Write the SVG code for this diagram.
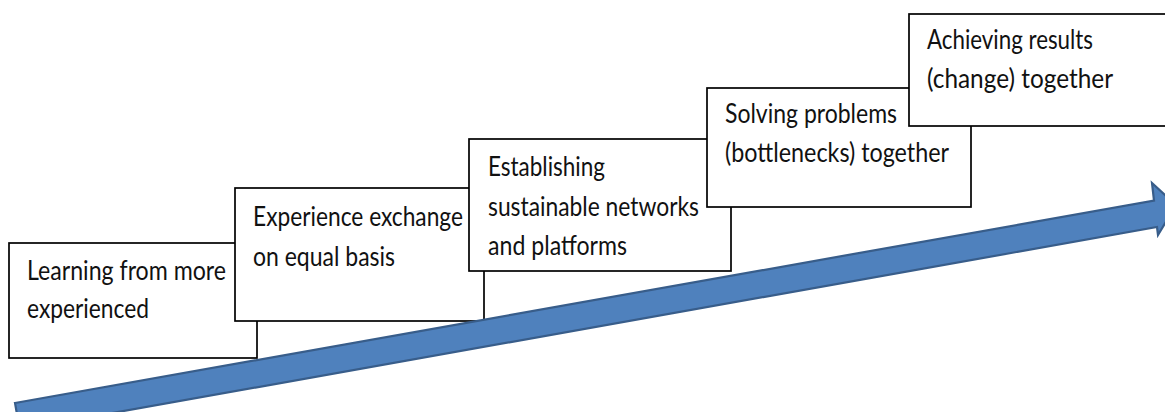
<svg xmlns="http://www.w3.org/2000/svg" width="1165" height="412" viewBox="0 0 1165 412">
<style>
.box{fill:#ffffff;stroke:#000000;stroke-width:1.7}
.t{font-family:Lato,"Liberation Sans",sans-serif;font-size:27px;fill:#111111}
.arrow{fill:#4F81BD;stroke:#385D8A;stroke-width:2.2;stroke-linejoin:miter}
</style>
<rect width="1165" height="412" fill="#ffffff"/>
<g id="node1">
<rect class="box" x="9" y="243" width="248" height="115"/>
<text class="t" x="27" y="280" textLength="199" lengthAdjust="spacingAndGlyphs">Learning from more</text>
<text class="t" x="27" y="318" textLength="122" lengthAdjust="spacingAndGlyphs">experienced</text>
</g>
<g id="node2">
<rect class="box" x="235" y="188" width="249" height="133"/>
<text class="t" x="253" y="226" textLength="210" lengthAdjust="spacingAndGlyphs">Experience exchange</text>
<text class="t" x="253" y="266" textLength="142" lengthAdjust="spacingAndGlyphs">on equal basis</text>
</g>
<g id="node3">
<rect class="box" x="469" y="139" width="262" height="132"/>
<text class="t" x="488" y="176" textLength="117" lengthAdjust="spacingAndGlyphs">Establishing</text>
<text class="t" x="488" y="216" textLength="211" lengthAdjust="spacingAndGlyphs">sustainable networks</text>
<text class="t" x="488" y="255" textLength="139" lengthAdjust="spacingAndGlyphs">and platforms</text>
</g>
<g id="node4">
<rect class="box" x="707" y="88" width="264" height="119"/>
<text class="t" x="725" y="123" textLength="172" lengthAdjust="spacingAndGlyphs">Solving problems</text>
<text class="t" x="725" y="162" textLength="224" lengthAdjust="spacingAndGlyphs">(bottlenecks) together</text>
</g>
<g id="node5">
<rect class="box" x="909" y="14" width="262" height="112"/>
<text class="t" x="927" y="49" textLength="166" lengthAdjust="spacingAndGlyphs">Achieving results</text>
<text class="t" x="927" y="88" textLength="186" lengthAdjust="spacingAndGlyphs">(change) together</text>
</g>
<g id="connectors">
<polygon class="arrow" points="15,403 1154,200.6 1152,183 1176,205 1158,235 1157,227 19.7,429.5"/>
</g>
</svg>
